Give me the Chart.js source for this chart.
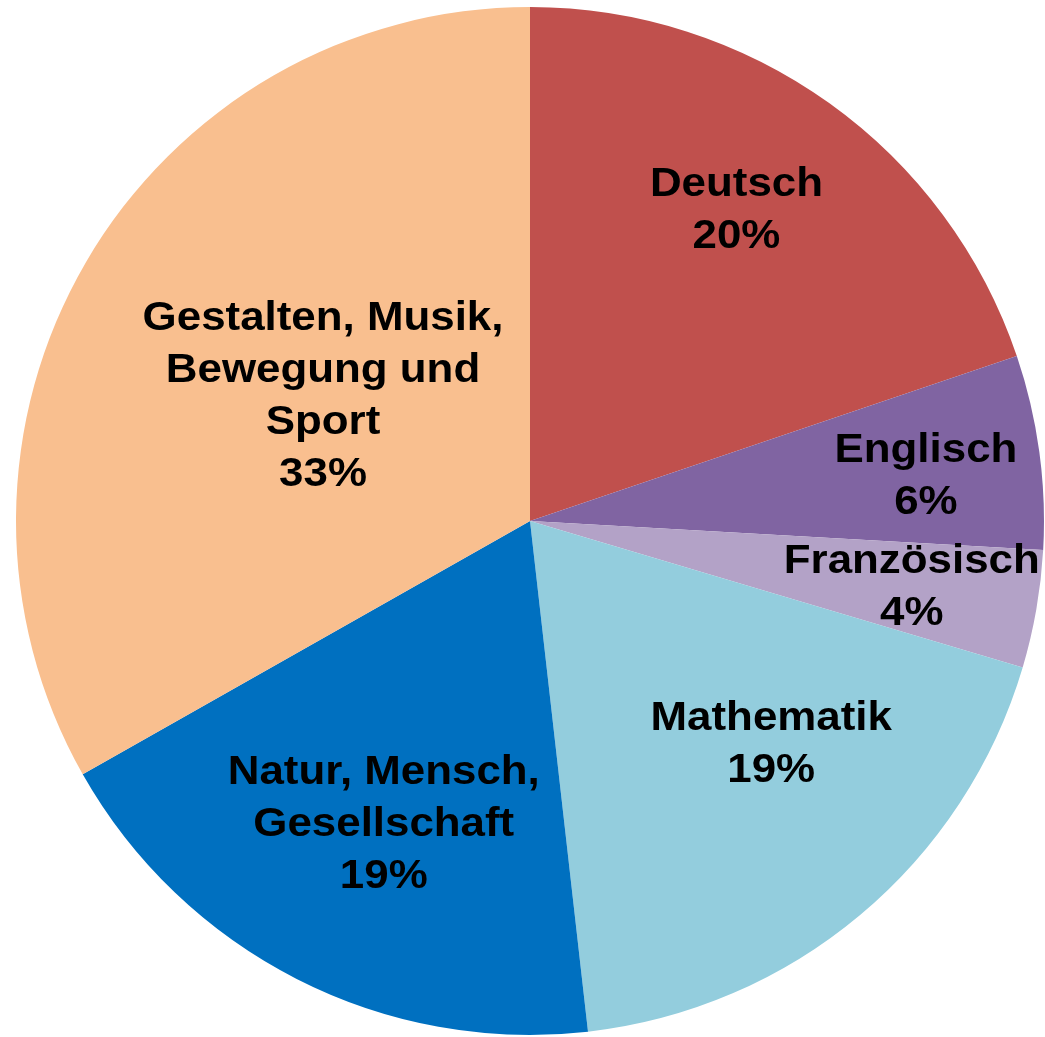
<!DOCTYPE html>
<html>
<head>
<meta charset="utf-8">
<script src="https://cdn.jsdelivr.net/npm/chart.js@4"></script>
<style>
  html, body { margin: 0; padding: 0; background: #fff; }
  #wrap { width: 1045px; height: 1037px; }
</style>
</head>
<body>
<div id="wrap"><canvas id="myChart" width="1045" height="1037"></canvas></div>
<script>
// categories, one entry per line of the slice label
var subjects = [
    ['Deutsch'],
    ['Englisch'],
    ['Französisch'],
    ['Mathematik'],
    ['Natur, Mensch,', 'Gesellschaft'],
    ['Gestalten, Musik,', 'Bewegung und', 'Sport']
];
// share of lessons
var shares = [19.8, 6.1, 3.7, 18.6, 18.6, 33.2];
var colors = ['#C0504D', '#8064A2', '#B3A2C7', '#93CDDD', '#0070C0', '#F9BF8F'];

// where each label sits: fraction of radius and shift from the mid angle (degrees)
var labelRadius = [0.725, 0.775, 0.754, 0.64, 0.656, 0.47];
var labelShift = [-2, 1.4, 0, -7.2, -1.3, 0.8];

var sliceLabels = {
    id: 'sliceLabels',
    afterDatasetsDraw: function(chart) {
        var ctx = chart.ctx;
        var meta = chart.getDatasetMeta(0);
        var data = chart.data.datasets[0].data;
        var total = data.reduce(function(a, b) { return a + b; }, 0);
        ctx.save();
        ctx.fillStyle = '#000';
        ctx.font = 'bold 41px "Liberation Sans", Arial, sans-serif';
        ctx.textAlign = 'center';
        ctx.textBaseline = 'middle';
        meta.data.forEach(function(arc, i) {
            var mid = (arc.startAngle + arc.endAngle) / 2 + labelShift[i] * Math.PI / 180;
            var r = arc.outerRadius * labelRadius[i];
            var x = arc.x + Math.cos(mid) * r;
            var y = arc.y + Math.sin(mid) * r;
            var lines = subjects[i].concat([Math.round(data[i] / total * 100) + '%']);
            var lh = 52;
            var y0 = y - (lines.length - 1) * lh / 2;
            lines.forEach(function(t, k) {
                // the original text is a little wider than Arial
                ctx.save();
                ctx.translate(x, y0 + k * lh);
                ctx.scale(1.07, 1);
                ctx.fillText(t, 0, 0);
                ctx.restore();
            });
        });
        ctx.restore();
    }
};

var ctx = document.getElementById('myChart').getContext('2d');
var chart = new Chart(ctx, {
    type: 'pie',
    data: {
        labels: subjects.map(function(s) { return s.join(' '); }),
        datasets: [{
            data: shares,
            backgroundColor: colors,
            borderWidth: 0
        }]
    },
    options: {
        responsive: false,
        animation: false,
        layout: { padding: { left: 16, right: 1, top: 7, bottom: 2 } },
        plugins: {
            legend: { display: false },
            tooltip: { enabled: false }
        }
    },
    plugins: [sliceLabels]
});
</script>
</body>
</html>
